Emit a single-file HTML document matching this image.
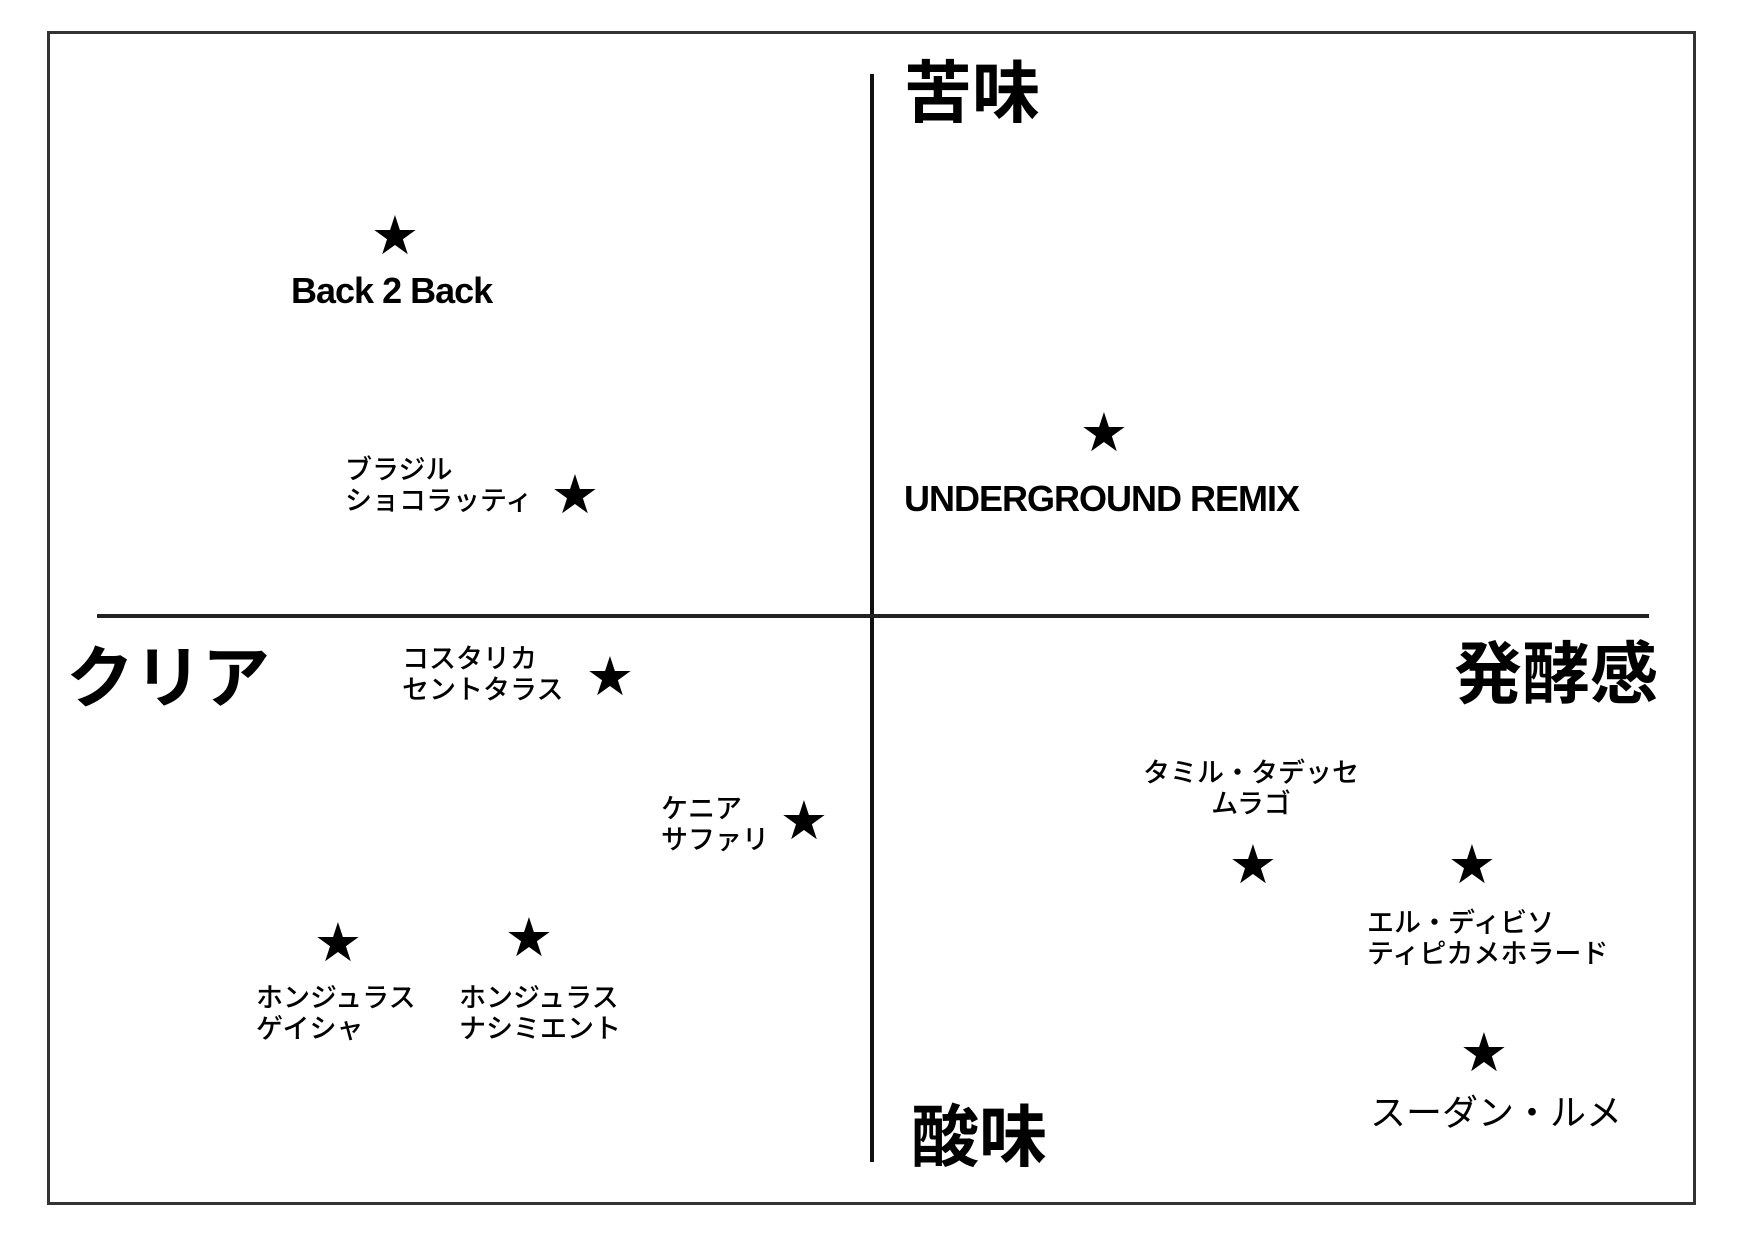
<!DOCTYPE html>
<html><head><meta charset="utf-8"><style>
body{margin:0;width:1754px;height:1240px;background:#fff;position:relative;overflow:hidden;font-family:"Liberation Sans","Noto Sans CJK JP",sans-serif;color:#000}
.a{position:absolute;white-space:nowrap}
.s{position:absolute;font-size:54px;line-height:54px;width:60px;text-align:center;transform:translate(-50%,-50%);font-family:"DejaVu Sans",sans-serif}
.j{font-size:27px;line-height:31px;font-weight:500}
.big{font-size:68px;line-height:68px;font-weight:bold}
</style></head><body>
<div class="a" style="left:47px;top:31px;width:1649px;height:1174px;border:3px solid #333;box-sizing:border-box"></div>
<div class="a" style="left:870px;top:74px;width:4px;height:1088px;background:#111"></div>
<div class="a" style="left:97px;top:614px;width:1552px;height:4px;background:#222"></div>

<div class="a big" style="left:904px;top:60px">苦味</div>
<div class="a big" style="left:911px;top:1104px">酸味</div>
<div class="a big" style="left:66px;top:645px">クリア</div>
<div class="a big" style="left:1454px;top:641px">発酵感</div>

<div class="s" style="left:395px;top:236px">★</div>
<div class="a" style="left:291px;top:270px;font-size:36px;font-weight:bold;letter-spacing:-1px">Back 2 Back</div>

<div class="s" style="left:575px;top:495px">★</div>
<div class="a j" style="left:345px;top:455px">ブラジル<br>ショコラッティ</div>

<div class="s" style="left:1104px;top:433px">★</div>
<div class="a" style="left:904px;top:478px;font-size:36px;font-weight:bold;letter-spacing:-1px">UNDERGROUND REMIX</div>

<div class="s" style="left:610px;top:677px">★</div>
<div class="a j" style="left:402px;top:644px">コスタリカ<br>セントタラス</div>

<div class="s" style="left:804px;top:821px">★</div>
<div class="a j" style="left:661px;top:794px">ケニア<br>サファリ</div>

<div class="s" style="left:338px;top:943px">★</div>
<div class="a j" style="left:256px;top:983px">ホンジュラス<br>ゲイシャ</div>

<div class="s" style="left:529px;top:938px">★</div>
<div class="a j" style="left:459px;top:983px">ホンジュラス<br>ナシミエント</div>

<div class="a j" style="left:1143px;top:758px;text-align:center">タミル・タデッセ<br>ムラゴ</div>
<div class="s" style="left:1253px;top:865px">★</div>

<div class="s" style="left:1472px;top:865px">★</div>
<div class="a j" style="left:1367px;top:908px">エル・ディビソ<br>ティピカメホラード</div>

<div class="s" style="left:1484px;top:1053px">★</div>
<div class="a" style="left:1370px;top:1093px;font-size:36px;line-height:40px">スーダン・ルメ</div>
</body></html>
